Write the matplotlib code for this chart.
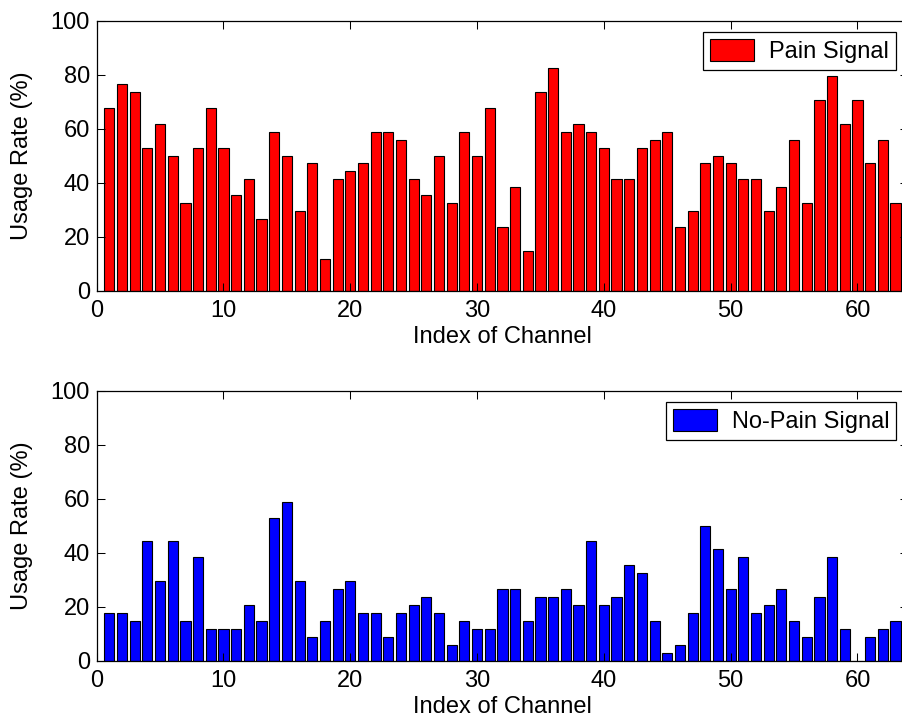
import numpy as np
import matplotlib
matplotlib.use("Agg")
import matplotlib.pyplot as plt

plt.rcParams["font.family"] = ["Liberation Sans", "DejaVu Sans"]

# Usage rate per channel (%)
channels = np.arange(1, 64)
pain = [67.6, 76.5, 73.5, 52.9, 61.8, 50.0, 32.4, 52.9, 67.6, 52.9,
        35.3, 41.2, 26.5, 58.8, 50.0, 29.4, 47.1, 11.8, 41.2, 44.1,
        47.1, 58.8, 58.8, 55.9, 41.2, 35.3, 50.0, 32.4, 58.8, 50.0,
        67.6, 23.5, 38.2, 14.7, 73.5, 82.4, 58.8, 61.8, 58.8, 52.9,
        41.2, 41.2, 52.9, 55.9, 58.8, 23.5, 29.4, 47.1, 50.0, 47.1,
        41.2, 41.2, 29.4, 38.2, 55.9, 32.4, 70.6, 79.4, 61.8, 70.6,
        47.1, 55.9, 32.4]
no_pain = [17.6, 17.6, 14.7, 44.1, 29.4, 44.1, 14.7, 38.2, 11.8, 11.8,
           11.8, 20.6, 14.7, 52.9, 58.8, 29.4, 8.8, 14.7, 26.5, 29.4,
           17.6, 17.6, 8.8, 17.6, 20.6, 23.5, 17.6, 5.9, 14.7, 11.8,
           11.8, 26.5, 26.5, 14.7, 23.5, 23.5, 26.5, 20.6, 44.1, 20.6,
           23.5, 35.3, 32.4, 14.7, 2.9, 5.9, 17.6, 50.0, 41.2, 26.5,
           38.2, 17.6, 20.6, 26.5, 14.7, 8.8, 23.5, 38.2, 11.8, 0.0,
           8.8, 11.8, 14.7]

W, H = 902, 728
fig = plt.figure(figsize=(W / 100, H / 100), dpi=100)

left = 96.7 / W
width = 811.5 / W
ax1 = fig.add_axes([left, 1 - 290.5 / H, width, 270 / H])
ax2 = fig.add_axes([left, 1 - 660.5 / H, width, 270 / H])

fs = 17
for ax, vals, col, lab in [(ax1, pain, "#ff0000", "Pain Signal"),
                           (ax2, no_pain, "#0000ff", "No-Pain Signal")]:
    ax.bar(channels, vals, width=0.8, color=col, edgecolor="black",
           linewidth=0.8, label=lab)
    ax.set_xlim(0, 64)
    ax.set_ylim(0, 100)
    ax.set_xticks(np.arange(0, 61, 10))
    ax.set_yticks(np.arange(0, 101, 20))
    ax.tick_params(direction="in", length=5.5, width=0.75, top=True,
                   right=True, labelsize=fs, colors="black")
    ax.tick_params(axis="x", pad=6.5)
    ax.tick_params(axis="y", pad=5)
    for s in ax.spines.values():
        s.set_linewidth(0.9)
    ax.set_xlabel("Index of Channel", fontsize=fs, labelpad=3)
    ax.set_ylabel("Usage Rate (%)", fontsize=fs)
    ax.yaxis.set_label_coords(-0.079, 0.5)
    leg = ax.legend(loc="upper right", fontsize=fs, fancybox=False,
                    framealpha=1, edgecolor="black", borderaxespad=0.5,
                    handlelength=1.86, handleheight=1.0, handletextpad=0.64,
                    borderpad=0.3)
    leg.get_frame().set_linewidth(0.9)

fig.savefig("out.png", dpi=100)
